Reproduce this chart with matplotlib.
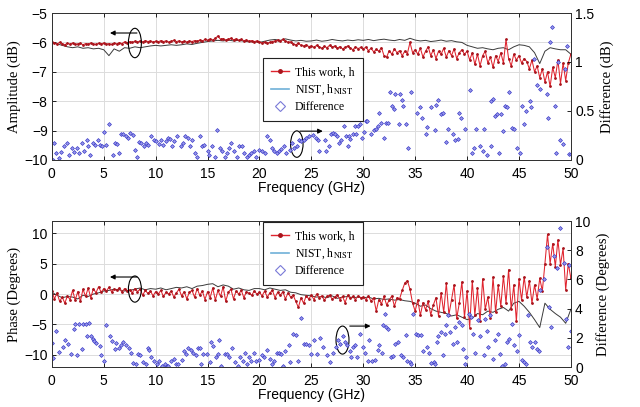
import numpy as np
import matplotlib
matplotlib.use("Agg")
import matplotlib.pyplot as plt
from matplotlib.patches import Ellipse
from matplotlib.lines import Line2D

# ---------------- data ----------------
freq_fine = np.linspace(0, 50, 201)    # 0.25 GHz grid
freq_coarse = np.linspace(0, 50, 101)  # 0.5 GHz grid

amp_this = [
    -5.97,-6.02,-6.05,-6.00,-6.04,-6.08,-6.03,-6.06,-6.02,-6.07,-6.05,-6.03,-6.08,-6.04,-6.06,-6.02,-6.05,-6.07,-6.03,-6.05,
    -6.02,-6.06,-6.04,-6.07,-6.03,-6.05,-6.01,-6.04,-5.98,-6.02,-5.97,-6.00,-5.96,-5.99,-5.95,-5.98,-5.94,-5.97,-5.95,-5.99,
    -5.96,-5.98,-5.94,-5.97,-5.95,-5.99,-5.96,-5.93,-5.97,-5.95,-5.98,-5.96,-5.99,-5.95,-5.97,-5.94,-5.96,-5.92,-5.95,-5.90,
    -5.93,-5.88,-5.92,-5.86,-5.78,-5.90,-5.87,-5.92,-5.89,-5.86,-5.91,-5.88,-5.93,-5.90,-5.94,-5.92,-5.96,-5.94,-5.97,-5.95,
    -5.98,-6.02,-5.99,-6.03,-6.00,-5.97,-5.95,-5.92,-5.96,-5.90,-5.94,-6.00,-5.98,-6.05,-6.08,-6.03,-6.10,-6.12,-6.08,-6.14,
    -6.12,-6.17,-6.10,-6.15,-6.20,-6.13,-6.18,-6.10,-6.16,-6.12,-6.20,-6.14,-6.22,-6.17,-6.12,-6.19,-6.25,-6.15,-6.21,-6.17,
    -6.22,-6.16,-6.28,-6.20,-6.32,-6.24,-6.30,-6.18,-6.45,-6.50,-6.28,-6.40,-6.22,-6.35,-6.28,-6.45,-6.30,-6.38,-6.00,-6.35,
    -6.25,-6.40,-6.20,-6.50,-6.30,-6.15,-6.45,-6.25,-6.55,-6.30,-6.40,-6.20,-6.50,-6.28,-6.45,-6.22,-6.55,-6.35,-6.25,-6.40,
    -6.30,-6.60,-6.35,-6.75,-6.40,-6.80,-6.45,-6.30,-6.70,-6.50,-6.85,-6.45,-6.65,-6.35,-6.70,-5.90,-6.55,-6.80,-6.40,-6.60,
    -6.45,-6.70,-6.55,-6.65,-6.90,-6.60,-7.00,-6.80,-7.20,-6.90,-7.35,-7.00,-7.50,-6.85,-7.20,-6.60,-7.40,-6.70,-7.30,-6.70,
    -6.40]

amp_nist = [
    -6.00,-6.05,-6.10,-6.15,-6.18,-6.15,-6.20,-6.18,-6.22,-6.20,
    -6.25,-6.45,-6.22,-6.30,-6.18,-6.20,-6.15,-6.18,-6.15,-6.12,
    -6.10,-6.12,-6.10,-6.08,-6.10,-6.08,-6.05,-6.07,-6.03,-6.00,
    -5.97,-5.95,-5.93,-5.95,-5.92,-5.95,-5.93,-5.96,-5.98,-5.97,
    -6.00,-5.96,-5.92,-5.90,-5.93,-5.88,-5.92,-5.95,-5.93,-5.96,
    -5.95,-5.92,-5.96,-5.94,-5.90,-5.93,-5.95,-5.92,-5.94,-5.91,
    -5.93,-5.90,-5.94,-5.91,-5.89,-5.92,-5.94,-5.90,-5.93,-5.86,
    -5.92,-5.95,-5.93,-5.97,-5.95,-5.92,-5.96,-5.94,-5.98,-6.00,
    -6.10,-6.15,-6.20,-6.18,-6.22,-6.25,-6.20,-6.18,-6.25,-6.15,
    -6.08,-6.10,-6.15,-6.35,-6.72,-6.30,-6.18,-6.22,-6.25,-6.25,
    -6.40]

amp_diff_f = [0.1,0.2,0.4,0.7,0.9,1.2,1.5,1.7,1.9,2.1,2.4,2.6,2.9,3.1,3.4,3.5,3.7,4.0,4.2,4.4,4.6,4.8,5.0,5.2,5.5,5.9,
    6.1,6.3,6.5,6.7,6.9,7.1,7.3,7.5,7.8,8.0,8.2,8.4,8.6,8.9,9.1,9.3,9.6,9.8,10.0,10.3,10.5,10.7,11.0,11.2,11.4,11.6,11.8,
    12.1,12.4,12.6,12.8,13.1,13.3,13.5,13.8,14.0,14.3,14.5,14.7,15.0,15.1,15.4,15.7,15.9,16.2,16.4,16.7,16.9,17.1,17.3,17.5,
    17.8,18.0,18.3,18.5,18.8,19.0,19.2,19.5,19.7,20.0,20.2,20.5,20.7,21.0,21.2,21.4,21.7,21.9,22.1,22.4,22.6,22.9,23.1,23.3,
    23.6,23.8,24.0,24.3,24.5,24.8,25.2,25.4,25.6,25.7,26.3,26.4,26.7,26.9,27.1,27.3,27.5,27.7,27.9,28.1,28.3,28.5,28.6,28.7,
    29.0,29.2,29.3,29.5,29.7,29.9,30.1,30.3,30.4,30.7,31.0,31.2,31.4,31.5,31.7,32.0,32.2,32.4,32.6,32.8,33.0,33.1,33.4,33.5,
    33.7,33.8,34.1,34.3,34.6,35.2,35.5,35.7,36.0,36.1,36.5,36.9,37.0,37.2,37.5,37.7,38.0,38.2,38.6,38.8,39.1,39.2,39.4,39.8,
    40.3,40.5,40.7,40.9,41.2,41.5,41.6,41.9,42.3,42.3,42.5,42.7,42.9,43.1,43.3,43.5,43.7,43.8,44.0,44.3,44.5,44.8,45.1,45.3,
    45.5,45.7,46.1,46.2,46.4,46.7,47.0,47.7,47.8,48.0,48.2,48.5,48.6,48.8,49.0,49.2,49.4,49.6,49.8,50.0]
amp_diff_v = [0.00,0.17,0.07,0.02,0.08,0.14,0.17,0.05,0.12,0.08,0.12,0.07,0.17,0.09,0.20,0.14,0.05,0.17,0.15,0.20,0.15,0.14,0.29,0.15,0.37,0.05,
    0.17,0.16,0.07,0.27,0.26,0.24,0.22,0.28,0.25,0.10,0.03,0.18,0.17,0.14,0.17,0.15,0.24,0.20,0.19,0.16,0.20,0.15,0.19,0.22,0.21,0.14,0.19,
    0.24,0.14,0.17,0.24,0.22,0.14,0.20,0.07,0.03,0.24,0.14,0.15,0.09,0.05,0.14,0.03,0.31,0.12,0.09,0.03,0.07,0.12,0.17,0.09,
    0.03,0.14,0.14,0.07,0.03,0.05,0.07,0.09,0.03,0.10,0.09,0.07,0.24,0.20,0.12,0.09,0.07,0.09,0.11,0.14,0.07,0.10,0.17,0.12,
    0.14,0.20,0.19,0.20,0.22,0.24,0.25,0.22,0.20,0.09,0.20,0.09,0.14,0.27,0.28,0.27,0.24,0.17,0.20,0.35,0.24,0.14,0.24,0.21,
    0.27,0.35,0.27,0.35,0.37,0.22,0.29,0.40,0.40,0.27,0.31,0.32,0.35,0.48,0.38,0.22,0.38,0.38,0.69,0.55,0.52,0.67,0.37,0.67,
    0.61,0.55,0.37,0.12,0.69,0.48,0.54,0.43,0.27,0.34,0.54,0.31,0.56,0.61,0.47,0.48,0.18,0.32,0.27,0.20,0.21,0.48,0.43,0.32,
    0.71,0.07,0.12,0.32,0.14,0.09,0.32,0.05,0.14,0.60,0.62,0.45,0.47,0.07,0.47,0.30,0.55,0.54,0.69,0.33,0.32,0.12,0.07,0.55,
    0.37,0.50,0.60,0.54,1.03,0.77,0.72,0.67,0.43,1.20,1.36,0.55,0.07,1.00,0.20,0.16,0.93,1.16,0.06,0.06]

ph_this = [
    0.5,-0.8,0.2,-1.2,-0.5,-1.5,-0.3,-0.9,0.6,-1.0,0.4,-1.2,0.8,-0.4,1.0,-0.6,0.9,0.2,1.2,0.3,
    0.9,0.5,1.1,0.4,0.8,0.6,1.0,0.3,0.9,0.5,0.7,0.2,0.9,0.4,0.8,-0.2,0.6,0.1,0.5,-0.3,
    0.4,0.0,0.6,-0.4,0.3,0.0,0.5,-0.5,0.2,0.8,-0.3,0.4,-0.8,0.3,0.6,-0.5,0.9,-0.2,0.5,-0.9,
    0.4,-0.6,1.0,-1.0,0.6,-0.4,1.2,-1.2,0.3,0.8,-0.8,0.5,0.0,0.6,-0.6,0.4,0.1,-0.2,0.5,0.0,
    0.3,-0.3,0.5,-0.5,0.2,0.6,-0.6,0.3,-0.2,0.4,-0.8,0.2,-0.5,-0.2,-1.2,-2.2,-0.6,-1.5,-0.3,-0.8,
    -0.2,-0.9,0.0,-0.6,-0.3,-1.0,-0.4,-0.2,-0.8,-0.5,-0.1,-0.9,-0.4,-1.4,-0.2,-0.7,-0.4,-0.9,-0.3,-0.6,
    -0.5,-0.9,-0.3,-1.2,-0.6,-2.8,-0.9,-1.6,-0.4,-1.8,-1.0,-0.3,-2.0,-0.6,-0.8,0.6,1.8,2.2,0.8,-1.5,
    -2.8,-1.0,-3.5,-1.4,-2.6,-1.2,-3.4,-1.8,-0.6,-3.6,0.2,-3.0,1.8,-3.4,-1.0,1.5,-4.0,-1.5,2.0,-3.8,
    0.5,-5.5,2.2,-3.5,1.0,-4.5,2.5,-2.5,-0.5,-4.0,2.8,-3.0,1.5,-2.0,3.0,-1.5,4.0,-2.5,1.5,-4.5,
    2.5,-1.0,2.8,-0.5,2.2,-1.5,1.5,-0.8,2.6,0.5,5.0,9.8,5.0,8.3,4.5,8.9,4.8,7.5,0.7,5.0,
    2.6]

ph_nist = [
    0.3,-0.2,-0.6,-0.4,-0.5,-0.8,-0.2,-0.4,0.0,0.2,
    0.5,0.6,0.8,0.7,0.5,0.6,0.8,1.0,0.7,0.9,
    0.8,1.0,0.7,0.9,1.1,1.0,1.2,0.9,1.3,1.4,
    1.6,1.7,1.2,1.5,1.3,0.8,1.0,0.7,0.6,0.9,
    0.9,0.7,1.0,0.8,0.6,0.7,0.3,0.2,-0.1,-0.2,
    -0.3,-0.5,-0.4,-0.6,-0.3,-0.7,-0.5,-0.4,-0.6,-0.5,
    -0.6,-0.5,-0.8,-0.7,-0.9,-0.8,-1.0,-0.9,-1.1,-1.2,
    -1.5,-2.0,-1.8,-2.4,-2.8,-3.0,-3.2,-3.6,-3.4,-3.8,
    -4.2,-4.0,-3.2,-3.4,-2.8,-3.0,-2.5,-2.2,-2.8,-1.5,
    -1.2,-2.0,-3.0,-4.2,-5.5,-1.5,-2.5,-3.2,-3.8,-4.8,
    -2.5]

ph_diff_f = [0.0,0.1,0.4,0.7,1.1,1.3,1.6,1.8,2.1,2.2,2.4,2.6,2.9,3.0,3.3,3.4,3.6,3.8,4.0,4.1,4.3,4.6,4.7,5.0,5.2,5.6,
    5.8,6.1,6.2,6.5,6.7,6.9,7.1,7.4,7.6,7.8,8.1,8.3,8.5,8.8,9.1,9.3,9.4,9.6,9.8,10.1,10.3,10.6,10.9,11.1,11.2,11.5,11.8,
    12.0,12.2,12.5,12.7,12.9,13.1,13.4,13.6,13.9,14.1,14.3,14.4,14.6,14.9,15.2,15.3,15.5,15.8,16.0,16.1,16.3,16.7,16.9,
    17.1,17.4,17.6,17.9,18.1,18.4,18.6,18.8,19.0,19.2,19.5,19.7,20.0,20.2,20.4,20.7,21.0,21.2,21.4,21.7,21.9,22.1,22.3,
    22.5,22.8,22.9,23.2,23.5,23.7,24.0,24.3,24.5,24.8,25.0,25.3,25.5,25.8,26.1,26.5,26.8,27.1,27.4,27.6,27.8,28.0,28.2,
    28.4,28.7,28.8,29.0,29.2,29.4,29.7,30.0,30.2,30.5,30.6,30.8,31.1,31.4,31.5,31.8,31.9,32.1,32.2,32.4,32.7,32.9,33.1,
    33.3,33.6,33.8,34.1,34.2,34.5,34.6,34.8,35.1,35.3,35.6,35.8,36.1,36.3,36.5,36.8,36.9,37.1,37.2,37.5,37.7,37.9,38.0,
    38.2,38.4,38.6,38.8,39.0,39.2,39.5,39.6,39.8,39.9,40.2,40.4,40.6,40.8,41.1,41.2,41.6,41.7,41.9,42.0,42.2,42.5,42.7,
    43.0,43.2,43.4,43.7,43.8,44.0,44.3,44.5,44.8,45.0,45.3,45.5,45.7,45.9,46.1,46.3,46.5,46.7,46.9,47.0,47.4,47.7,47.9,
    48.1,48.4,48.7,49.0,49.3,49.5,49.7,49.8,50.0]
ph_diff_v = [1.67,0.60,2.47,1.05,1.40,1.85,1.60,0.90,2.58,2.94,0.83,2.94,1.26,2.94,2.94,2.10,3.00,2.10,1.90,1.80,1.64,1.46,0.85,0.40,2.85,2.10,
    1.80,1.26,1.64,1.30,1.50,1.75,1.50,1.30,0.95,0.30,0.20,0.90,0.80,0.35,0.20,1.30,1.20,0.70,0.45,0.20,0.40,0.10,0.20,0.10,0.05,0.45,0.55,
    0.20,0.20,0.50,1.10,0.90,1.30,1.20,1.00,0.80,1.30,1.30,0.20,0.90,0.90,0.35,1.75,1.45,0.70,0.90,1.85,0.10,0.90,0.90,
    0.70,1.30,0.35,0.05,0.70,0.45,1.00,0.20,0.70,0.45,1.00,0.45,0.50,0.80,0.70,1.20,0.55,0.20,0.45,1.00,1.00,0.90,0.10,
    1.10,1.50,0.35,2.30,2.20,0.45,3.35,1.60,1.60,1.50,0.90,1.85,0.90,2.00,1.40,0.80,0.35,1.00,1.40,1.85,1.60,2.10,1.75,
    1.50,1.10,0.70,1.40,1.50,0.70,2.30,1.40,1.00,0.45,1.85,0.45,0.50,1.20,1.50,1.00,2.90,3.65,2.75,2.60,0.70,0.75,1.60,
    1.75,0.80,0.70,2.20,0.45,0.35,0.20,3.65,2.30,2.20,2.20,1.10,1.40,1.00,0.30,0.35,0.20,1.75,2.10,2.40,0.80,2.30,2.85,
    3.55,2.40,1.60,2.75,1.75,3.10,2.85,1.25,0.20,0.70,3.65,3.40,2.30,1.00,3.20,2.10,0.80,3.30,2.50,1.40,3.55,0.55,1.85,
    2.30,0.90,0.05,0.20,1.75,1.95,2.95,1.50,1.10,2.20,0.50,0.35,0.20,3.55,1.75,1.40,1.75,1.25,1.10,5.30,6.00,8.20,4.10,
    2.75,7.60,6.80,9.50,7.10,3.30,1.40,7.00,2.50]

x_ticks = [0, 5, 10, 15, 20, 25, 30, 35, 40, 45, 50]

# ---------------- style ----------------
plt.rcParams['mathtext.fontset'] = 'stix'
SANS = 'Liberation Sans'
SERIF = 'Liberation Serif'
RED = '#e0242e'
DOT = '#a8141c'
DARK = '#3a3a3a'
BLUE = '#3a3ac8'
NISTC = '#6fb0d8'

fig = plt.figure(figsize=(6.4, 4.07), dpi=100)
ax_top = fig.add_axes([0.081, 0.607, 0.811, 0.361])
ax_bot = fig.add_axes([0.081, 0.098, 0.811, 0.359])


def style_axes(ax, ax2):
    ax.set_xlim(0, 50)
    ax.set_xticks(x_ticks)
    ax.grid(True, color='#dcdcdc', linewidth=0.7)
    ax.set_axisbelow(True)
    ax.tick_params(axis='y', direction='in', length=3, width=0.6, labelsize=10, pad=3)
    ax.tick_params(axis='x', direction='in', length=3, width=0.6, top=True, labelsize=10, pad=5)
    ax2.tick_params(direction='in', length=3, width=0.6, labelsize=10, pad=3)
    for a in (ax, ax2):
        for lab in a.get_xticklabels() + a.get_yticklabels():
            lab.set_fontfamily(SANS)
        for s in a.spines.values():
            s.set_linewidth(0.7)
            s.set_color('#333333')


def legend(ax2, y_anchor):
    handles = [
        Line2D([], [], color=RED, lw=1.0, marker='o', ms=2.5, mfc=DOT, mec=DOT),
        Line2D([], [], color=NISTC, lw=1.2),
        Line2D([], [], color=BLUE, lw=0, marker='D', ms=5, mfc='white', mec='#7a7ad8', mew=0.8),
    ]
    labels = ['This work, h', r'NIST, h$_{\mathrm{NIST}}$', 'Difference']
    leg = ax2.legend(handles, labels, loc='upper left', bbox_to_anchor=(0.407, y_anchor),
                     prop={'family': SERIF, 'size': 8.5}, frameon=True, fancybox=False,
                     edgecolor='#222222', framealpha=1, borderpad=0.7, labelspacing=0.35,
                     handlelength=1.5, handletextpad=0.5, borderaxespad=0)
    leg.get_frame().set_linewidth(0.8)
    leg.set_zorder(20)


def annotate(ax, cx, cy, w, h, x0, y0, x1, y1):
    ax.add_patch(Ellipse((cx, cy), w, h, fill=False, edgecolor='black', lw=0.8, zorder=10))
    ax.annotate('', xy=(x1, y1), xytext=(x0, y0),
                arrowprops=dict(arrowstyle='-|>', color='black', lw=0.8,
                                mutation_scale=7, shrinkA=0, shrinkB=0), zorder=10)

# ---------------- top panel ----------------
ax_top.plot(freq_coarse, amp_nist, color=DARK, lw=0.7, zorder=3)
ax_top.plot(freq_fine, amp_this, color=RED, lw=0.75, marker='o', ms=1.0, mfc=DOT, mec=DOT, zorder=4)
ax_top.set_ylim(-10, -5)
ax_top.set_yticks([-10, -9, -8, -7, -6, -5])
ax_top.set_ylabel('Amplitude (dB)', fontfamily=SERIF, fontsize=10.5, labelpad=2)
ax_top2 = ax_top.twinx()
ax_top2.plot(amp_diff_f, amp_diff_v, ls='none', marker='D', ms=2.0, mfc='#9a9aea', mec=BLUE, mew=0.5)
ax_top2.set_ylim(0, 1.5)
ax_top2.set_yticks([0, 0.5, 1, 1.5])
ax_top2.set_yticklabels(['0', '0.5', '1', '1.5'])
ax_top2.set_ylabel('Difference (dB)', fontfamily=SERIF, fontsize=10.5, labelpad=4)
style_axes(ax_top, ax_top2)
ax_top.set_xlabel('Frequency (GHz)', fontfamily=SANS, fontsize=10, labelpad=0)
annotate(ax_top, 8.0, -6.02, 1.25, 1.0, 8.2, -5.68, 5.6, -5.68)
annotate(ax_top, 23.6, -9.46, 1.2, 0.9, 23.9, -9.02, 26.1, -9.02)
legend(ax_top2, 0.694)

# ---------------- bottom panel ----------------
ax_bot.plot(freq_coarse, ph_nist, color=DARK, lw=0.7, zorder=3)
ax_bot.plot(freq_fine, ph_this, color=RED, lw=0.75, marker='o', ms=1.0, mfc=DOT, mec=DOT, zorder=4)
ax_bot.set_ylim(-12, 12)
ax_bot.set_yticks([-10, -5, 0, 5, 10])
ax_bot.set_ylabel('Phase (Degrees)', fontfamily=SERIF, fontsize=10.5, labelpad=2)
ax_bot2 = ax_bot.twinx()
ax_bot2.plot(ph_diff_f, ph_diff_v, ls='none', marker='D', ms=2.0, mfc='#9a9aea', mec=BLUE, mew=0.5)
ax_bot2.set_ylim(0, 10)
ax_bot2.set_yticks([0, 2, 4, 6, 8, 10])
ax_bot2.set_ylabel('Difference (Degrees)', fontfamily=SERIF, fontsize=10.5, labelpad=4)
style_axes(ax_bot, ax_bot2)
ax_bot.set_xlabel('Frequency (GHz)', fontfamily=SANS, fontsize=10, labelpad=0)
annotate(ax_bot, 8.0, 0.82, 1.25, 4.3, 8.2, 2.8, 5.6, 2.8)
annotate(ax_bot, 28.0, -7.56, 1.25, 4.6, 28.7, -5.26, 30.7, -5.26)
legend(ax_bot2, 0.993)

fig.savefig('out.png', dpi=100)
